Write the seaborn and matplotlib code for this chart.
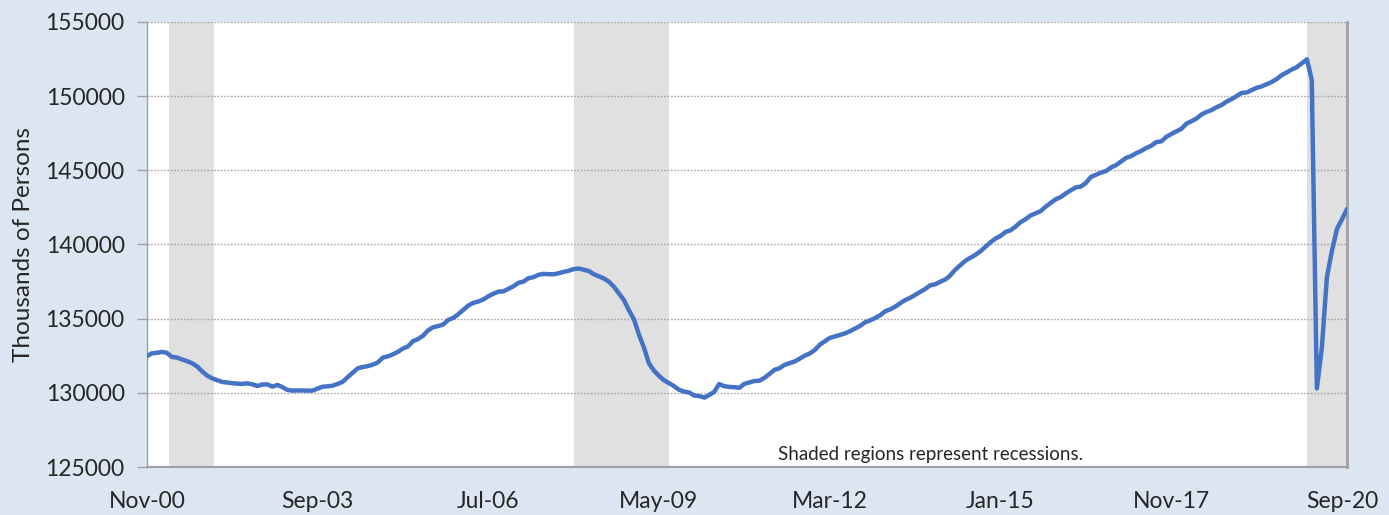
import pandas as pd
import seaborn as sns
import matplotlib.pyplot as plt
import matplotlib.dates as mdates

# Monthly payroll employment, thousands of persons, Nov 2000 - Oct 2020
y2000 = [132480, 132660]
y2001 = [132700, 132760, 132700, 132420, 132380, 132250, 132140, 132000, 131780, 131450, 131160, 130980]
y2002 = [130850, 130730, 130700, 130650, 130620, 130600, 130640, 130580, 130460, 130560, 130570, 130420]
y2003 = [130530, 130380, 130200, 130150, 130160, 130160, 130150, 130150, 130280, 130410, 130440, 130480]
y2004 = [130600, 130750, 131050, 131350, 131650, 131740, 131800, 131900, 132050, 132380, 132460, 132600]
y2005 = [132770, 133000, 133120, 133480, 133620, 133850, 134200, 134420, 134500, 134600, 134920, 135050]
y2006 = [135300, 135600, 135870, 136060, 136150, 136290, 136500, 136680, 136820, 136840, 137010, 137180]
y2007 = [137420, 137500, 137720, 137800, 137950, 138020, 138000, 137990, 138060, 138150, 138230, 138340]
y2008 = [138380, 138300, 138220, 138000, 137860, 137710, 137500, 137160, 136700, 136250, 135550, 134950]
y2009 = [133900, 133000, 132000, 131500, 131150, 130850, 130650, 130450, 130200, 130080, 130020, 129820]
y2010 = [129780, 129680, 129850, 130060, 130590, 130450, 130400, 130380, 130340, 130610, 130700, 130800]
y2011 = [130820, 131020, 131260, 131550, 131650, 131880, 132000, 132110, 132300, 132500, 132650, 132880]
y2012 = [133240, 133480, 133700, 133800, 133890, 134000, 134150, 134330, 134510, 134750, 134880, 135040]
y2013 = [135230, 135500, 135620, 135800, 136030, 136250, 136400, 136600, 136800, 137000, 137250, 137320]
y2014 = [137490, 137650, 137900, 138300, 138600, 138900, 139100, 139300, 139550, 139850, 140150, 140400]
y2015 = [140580, 140850, 140950, 141200, 141500, 141700, 141950, 142100, 142250, 142550, 142800, 143050]
y2016 = [143200, 143450, 143650, 143850, 143900, 144150, 144550, 144700, 144850, 144950, 145200, 145350]
y2017 = [145600, 145850, 145950, 146150, 146300, 146500, 146650, 146900, 146950, 147250, 147450, 147620]
y2018 = [147800, 148150, 148300, 148480, 148750, 148930, 149050, 149250, 149400, 149630, 149800, 150000]
y2019 = [150220, 150250, 150400, 150560, 150650, 150800, 150950, 151150, 151420, 151600, 151800, 151950]
y2020 = [152220, 152480, 151100, 130300, 133000, 137800, 139550, 141050, 141720, 142400]

employment = (y2000 + y2001 + y2002 + y2003 + y2004 + y2005 + y2006 + y2007 + y2008
              + y2009 + y2010 + y2011 + y2012 + y2013 + y2014 + y2015 + y2016
              + y2017 + y2018 + y2019 + y2020)
months = pd.date_range("2000-11-01", periods=len(employment), freq="MS")

# recession shading (start, end)
rec_start = ["2001-03-15", "2007-12-01", "2020-02-01"]
rec_end = ["2001-12-15", "2009-07-01", "2020-10-01"]

tick_dates = pd.date_range("2000-11-01", "2020-09-01", freq="34MS")

df = pd.DataFrame({"Month": months, "Employment": employment})

sns.set_theme(style="white")
plt.rcParams["font.family"] = ["Lato", "DejaVu Sans"]

bg = "#DCE6F2"
fig = plt.figure(figsize=(13.89, 5.15), dpi=100, facecolor=bg)
ax = fig.add_axes([0.1058, 0.0932, 0.8640, 0.8641])
ax.set_facecolor("white")

for s, e in zip(rec_start, rec_end):
    ax.axvspan(pd.Timestamp(s), pd.Timestamp(e), color="#E0E0E0", lw=0, zorder=0)

sns.lineplot(data=df, x="Month", y="Employment", ax=ax, color="#4472C4", lw=3.2, zorder=3)

ax.set_xlim(months[0], months[-1])
ax.set_ylim(125000, 155000)
ax.set_yticks(range(125000, 155001, 5000))
ax.yaxis.grid(True, color="#A6A6A6", linestyle=(0, (1.2, 1.2)), lw=1)
ax.xaxis.grid(False)

ax.set_xticks(tick_dates)
ax.xaxis.set_major_formatter(mdates.DateFormatter("%b-%y"))

ax.tick_params(axis="y", direction="out", length=7, width=1, color="#A0A0A0",
               labelsize=16.5, pad=9, left=True)
ax.tick_params(axis="x", length=0, labelsize=16.5, pad=17)

ax.spines["top"].set_visible(False)
ax.spines["left"].set_color("#A0A0A0")
ax.spines["left"].set_linewidth(1)
ax.spines["bottom"].set_color("#A0A0A0")
ax.spines["bottom"].set_linewidth(1.5)
ax.spines["right"].set_color("#A0A0A0")
ax.spines["right"].set_linewidth(2)

ax.set_xlabel("")
ax.set_ylabel("Thousands of Persons", fontsize=17.5, labelpad=8)

ax.text(0.6525, 0.027, "Shaded regions represent recessions.", transform=ax.transAxes,
        ha="center", va="center", fontsize=13.5)

plt.savefig("out.png", dpi=100, facecolor=bg)
